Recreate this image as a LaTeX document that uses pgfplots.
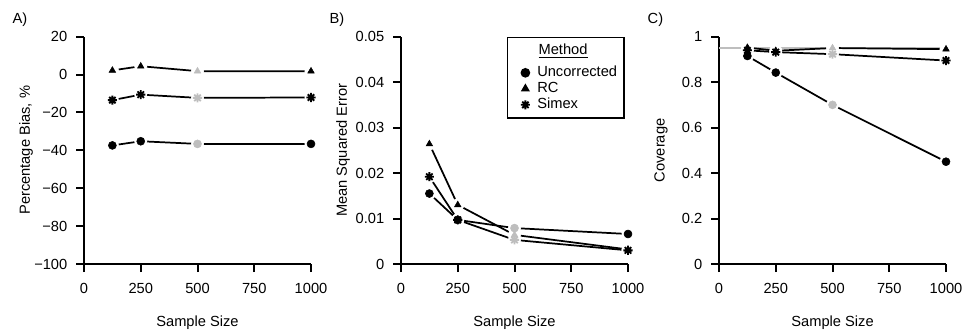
\documentclass[border=0pt]{standalone}
\usepackage{pgfplots}
\pgfplotsset{compat=1.18}
\usepackage{fontspec}
\setmainfont{Liberation Sans}
\definecolor{gr}{RGB}{190,190,190}

\pgfdeclareplotmark{ast8}{%
 \pgfpathmoveto{\pgfpointpolar{0}{\pgfplotmarksize}}\pgfpathlineto{\pgfpointpolar{180}{\pgfplotmarksize}}%
 \pgfpathmoveto{\pgfpointpolar{90}{\pgfplotmarksize}}\pgfpathlineto{\pgfpointpolar{270}{\pgfplotmarksize}}%
 \pgfpathmoveto{\pgfpointpolar{45}{\pgfplotmarksize}}\pgfpathlineto{\pgfpointpolar{225}{\pgfplotmarksize}}%
 \pgfpathmoveto{\pgfpointpolar{135}{\pgfplotmarksize}}\pgfpathlineto{\pgfpointpolar{315}{\pgfplotmarksize}}%
 \pgfusepathqstroke}

\pgfplotsset{
 panel/.style={
  width=170.25pt, height=170.5pt, scale only axis,
  axis lines=left, axis line style={-, line width=1.5pt},
  tick style={line width=1.5pt, black}, tick align=outside, major tick length=6pt,
  xmin=0, xmax=1000, xtick={0,250,500,750,1000}, xticklabels={0,250,500,750,1000},
  enlargelimits=false, clip=false, scaled y ticks=false, scaled x ticks=false,
  ticklabel style={font=\fontsize{11}{13}\selectfont},
  xticklabel style={yshift=-5pt},
  yticklabel style={xshift=-3pt},
  label style={font=\fontsize{11}{13}\selectfont},
  xlabel={Sample Size},
  xlabel style={at={(axis description cs:0.5,-0.259)}, anchor=center},
  ylabel style={at={(axis description cs:-0.255,0.5)}, anchor=center},
  anchor=south west,
 },
 seg/.style={black, line width=1.3pt, no marks},
 halo/.style={only marks, mark=*, white, mark size=4.6pt},
 mc/.style={only marks, mark=*, mark size=3pt},
 mt/.style={only marks, mark=triangle*, mark size=2.8pt},
 ms/.style={only marks, mark=ast8, mark size=3.4pt, mark options={line width=1.4pt}},
}

\begin{document}
\begin{tikzpicture}
\useasboundingbox (0,0) rectangle (721.5pt,246.75pt);

% ---------------- A ----------------
\begin{axis}[panel, at={(63pt,48.75pt)},
  ymin=-100, ymax=20, ytick={-100,-80,-60,-40,-20,0,20},
  yticklabels={−100,−80,−60,−40,−20,0,20},
  ylabel={Percentage Bias, \%}]
% Uncorrected
\addplot[seg] coordinates {(125,-37.4) (250,-35.2) (500,-36.6) (1000,-36.6)};
% RC
\addplot[seg] coordinates {(125,2.2) (250,4.4) (500,1.8) (1000,1.8)};
% Simex
\addplot[seg] coordinates {(125,-13.5) (250,-10.6) (500,-12.3) (1000,-12.1)};
\addplot[halo] coordinates {(125,-37.4) (250,-35.2) (500,-36.6) (1000,-36.6)
  (125,2.2) (250,4.4) (500,1.8) (1000,1.8)
  (125,-13.5) (250,-10.6) (500,-12.3) (1000,-12.1)};
\addplot[mc, black] coordinates {(125,-37.4) (250,-35.2) (1000,-36.6)};
\addplot[mc, gr] coordinates {(500,-36.6)};
\addplot[mt, black] coordinates {(125,2.2) (250,4.4) (1000,1.8)};
\addplot[mt, gr] coordinates {(500,1.8)};
\addplot[ms, black] coordinates {(125,-13.5) (250,-10.6) (1000,-12.1)};
\addplot[ms, gr] coordinates {(500,-12.3)};
\node[anchor=west, font=\fontsize{11}{13}\selectfont] at (axis description cs:-0.335,1.074) {A)};
\end{axis}

% ---------------- B ----------------
\begin{axis}[panel, at={(300.75pt,48.75pt)},
  ymin=0, ymax=0.05, ytick={0,0.01,0.02,0.03,0.04,0.05},
  yticklabels={0,0.01,0.02,0.03,0.04,0.05},
  ylabel={Mean Squared Error},
  legend cell align=left,
  legend style={at={(rel axis cs:0.985,1)}, anchor=north east, draw=black,
    line width=1.2pt, font=\fontsize{11}{13}\selectfont, row sep=0pt,
    inner xsep=5pt, inner ysep=4pt,
    /tikz/every odd column/.append style={column sep=5.5pt},
    nodes={inner sep=0pt, text height=9pt, text depth=3pt}}]
\addlegendimage{empty legend}
\addlegendentry[text depth=7.5pt]{\hspace{1pt}\underline{Method}}
\addlegendimage{mc, black}
\addlegendentry{Uncorrected}
\addlegendimage{mt, black}
\addlegendentry{RC}
\addlegendimage{ms, black}
\addlegendentry{Simex}
% Uncorrected
\addplot[seg] coordinates {(125,0.0155) (250,0.0097) (500,0.0079) (1000,0.0066)};
% RC
\addplot[seg] coordinates {(125,0.0264) (250,0.0130) (500,0.0064) (1000,0.0032)};
% Simex
\addplot[seg] coordinates {(125,0.0192) (250,0.0097) (500,0.0053) (1000,0.0030)};
\addplot[halo] coordinates {(125,0.0155) (250,0.0097) (500,0.0079) (1000,0.0066)
  (125,0.0264) (250,0.0130) (500,0.0064) (1000,0.0032)
  (125,0.0192) (250,0.0097) (500,0.0053) (1000,0.0030)};
\addplot[mc, black] coordinates {(125,0.0155) (250,0.0097) (1000,0.0066)};
\addplot[mc, gr] coordinates {(500,0.0079)};
\addplot[mt, black] coordinates {(125,0.0264) (250,0.0130) (1000,0.0032)};
\addplot[mt, gr] coordinates {(500,0.0064)};
\addplot[ms, black] coordinates {(125,0.0192) (250,0.0097) (1000,0.0030)};
\addplot[ms, gr] coordinates {(500,0.0053)};
\node[anchor=west, font=\fontsize{11}{13}\selectfont] at (axis description cs:-0.335,1.074) {B)};
\end{axis}

% ---------------- C ----------------
\begin{axis}[panel, at={(539.25pt,48.75pt)},
  ymin=0, ymax=1, ytick={0,0.2,0.4,0.6,0.8,1},
  yticklabels={0,0.2,0.4,0.6,0.8,1},
  ylabel={Coverage}]
\addplot[gr, line width=1.25pt, no marks] coordinates {(0,0.95) (1000,0.95)};
% Uncorrected
\addplot[seg] coordinates {(125,0.915) (250,0.842) (500,0.70) (1000,0.45)};
% RC
\addplot[seg] coordinates {(125,0.952) (250,0.938) (500,0.950) (1000,0.945)};
% Simex
\addplot[seg] coordinates {(125,0.940) (250,0.932) (500,0.923) (1000,0.895)};
\addplot[halo] coordinates {(125,0.915) (250,0.842) (500,0.70) (1000,0.45)
  (125,0.952) (250,0.938) (500,0.950) (1000,0.945)
  (125,0.940) (250,0.932) (500,0.923) (1000,0.895)};
\addplot[mc, black] coordinates {(125,0.915) (250,0.842) (1000,0.45)};
\addplot[mc, gr] coordinates {(500,0.70)};
\addplot[mt, black] coordinates {(125,0.952) (250,0.938) (1000,0.945)};
\addplot[mt, gr] coordinates {(500,0.950)};
\addplot[ms, black] coordinates {(125,0.940) (250,0.932) (1000,0.895)};
\addplot[ms, gr] coordinates {(500,0.923)};
\node[anchor=west, font=\fontsize{11}{13}\selectfont] at (axis description cs:-0.335,1.074) {C)};
\end{axis}
\end{tikzpicture}
\end{document}
